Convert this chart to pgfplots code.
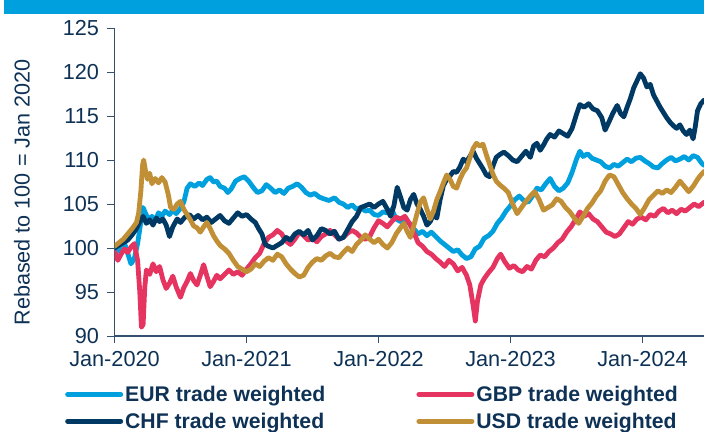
\documentclass[border=0pt]{standalone}
\usepackage{pgfplots}
\pgfplotsset{compat=1.18}
\usepackage{fontspec}
\setmainfont{Liberation Sans}
\definecolor{eurcol}{RGB}{0,160,223}
\definecolor{gbpcol}{RGB}{230,52,96}
\definecolor{chfcol}{RGB}{0,58,100}
\definecolor{usdcol}{RGB}{193,143,54}
\definecolor{barcol}{RGB}{0,160,223}
\definecolor{textcol}{RGB}{14,50,86}
\definecolor{axiscol}{RGB}{52,82,112}
\begin{document}
\begin{tikzpicture}
\path[use as bounding box] (0,0) rectangle (704bp,432bp);
\fill[barcol] (3.6bp,418bp) rectangle (704bp,432bp);
\begin{axis}[
  at={(114.5bp,96bp)}, anchor=south west,
  scale only axis, width=589.5bp, height=308bp,
  xmin=0, xmax=53.59, ymin=90, ymax=125,
  axis x line*=bottom, axis y line*=left,
  axis line style={-, axiscol, line width=1.1bp},
  tick align=outside, major tick length=7bp,
  tick style={axiscol, line width=1bp},
  xtick={0,12,24,36,48},
  xticklabels={Jan-2020,Jan-2021,Jan-2022,Jan-2023,Jan-2024},
  ytick={90,95,100,105,110,115,120,125},
  /pgf/number format/assume math mode=true,
  ticklabel style={font=\fontsize{21.7bp}{25bp}\selectfont, text=textcol},
  xticklabel style={yshift=-5bp},
  yticklabel style={xshift=-5bp},
  ylabel={Rebased to 100 = Jan 2020},
  ylabel style={font=\fontsize{21.6bp}{25bp}\selectfont, text=textcol, at={(axis description cs:-0.157,0.466)}, anchor=center},
  legend columns=2,
  legend cell align=left,
  legend style={at={(axis description cs:-0.084,-0.155)}, anchor=north west, draw=none, fill=none, inner sep=0pt,
    font=\bfseries\fontsize{21.2bp}{25bp}\selectfont, text=textcol,
    nodes={inner xsep=2bp, inner ysep=2bp},
    /tikz/every even column/.append style={column sep=89bp}, row sep=6bp},
  legend image code/.code={\draw[line width=5bp, line cap=round] (1bp,0bp) -- (54bp,0bp);},
  every axis plot/.append style={line width=4.8bp, line join=round, line cap=round},
]
\addplot[eurcol] table {
0.0 100.0
0.3 99.6
0.6 100.3
0.9 100.6
1.2 99.4
1.5 98.2
1.8 98.8
2.1 100.5
2.4 103.0
2.6 104.6
2.8 104.0
3.1 103.2
3.4 103.6
3.7 103.1
4.0 104.0
4.3 103.6
4.6 104.2
5.0 103.8
5.3 104.3
5.6 103.9
6.0 104.5
6.3 105.2
6.6 106.8
6.9 107.3
7.3 107.0
7.7 107.4
8.0 107.1
8.4 107.8
8.7 108.0
9.0 107.5
9.3 107.6
9.6 107.0
10.0 106.8
10.3 106.3
10.6 106.7
11.0 107.6
11.4 107.9
11.8 108.1
12.2 107.6
12.6 106.9
13.0 106.3
13.4 106.5
13.8 107.2
14.2 106.8
14.6 106.3
15.0 106.6
15.4 106.2
15.8 106.8
16.2 107.0
16.6 107.3
17.0 106.9
17.4 106.3
17.8 106.0
18.2 106.2
18.6 105.8
19.0 105.6
19.5 105.4
20.0 105.7
20.4 105.2
20.8 105.0
21.2 104.6
21.6 104.9
22.0 104.4
22.4 104.6
22.8 104.2
23.2 104.3
23.6 103.8
24.0 103.7
24.4 104.1
24.8 104.0
25.2 104.4
25.6 103.3
26.0 103.0
26.4 103.2
26.8 102.8
27.2 102.2
27.6 101.6
28.0 101.9
28.4 101.4
28.8 101.8
29.2 101.3
29.6 100.8
30.0 100.4
30.4 100.0
30.8 99.6
31.2 99.8
31.6 99.2
32.0 98.8
32.4 99.0
32.8 99.9
33.2 100.2
33.6 101.1
34.0 101.4
34.4 101.9
34.8 102.8
35.2 103.4
35.6 104.2
36.0 104.8
36.4 105.5
36.8 105.9
37.2 105.4
37.6 105.2
38.0 105.9
38.4 106.8
38.8 106.6
39.2 107.3
39.6 107.9
40.0 107.0
40.4 106.5
40.8 106.8
41.2 107.4
41.6 108.6
42.0 110.1
42.3 111.0
42.6 110.4
43.0 110.7
43.4 110.2
43.8 110.0
44.2 109.8
44.6 109.3
45.0 109.1
45.4 109.5
45.8 109.3
46.2 109.7
46.6 110.1
47.0 109.8
47.4 110.2
47.8 110.3
48.2 109.9
48.6 109.6
49.0 109.2
49.4 109.1
49.8 109.6
50.2 110.0
50.6 110.3
51.0 109.9
51.4 110.1
51.8 110.4
52.2 110.0
52.6 110.5
53.0 110.3
53.4 109.6
53.6 109.4
};
\addlegendentry{EUR trade weighted}
\addplot[gbpcol] table {
0.0 99.6
0.3 98.6
0.6 99.3
0.9 99.9
1.2 99.5
1.5 100.1
1.8 100.5
2.1 98.6
2.3 95.0
2.45 91.0
2.6 91.3
2.75 95.5
2.9 97.5
3.2 97.0
3.5 98.2
3.8 97.3
4.1 97.9
4.4 96.4
4.7 95.4
5.0 96.0
5.3 96.8
5.6 95.6
6.0 94.4
6.3 95.5
6.6 96.2
6.9 97.1
7.2 96.3
7.5 95.8
7.8 96.9
8.1 98.1
8.4 96.8
8.7 95.6
9.0 96.2
9.3 96.9
9.6 96.5
10.0 97.0
10.4 97.5
10.8 97.0
11.2 97.3
11.6 96.9
12.0 97.6
12.4 98.2
12.8 98.9
13.2 99.4
13.6 100.5
14.0 101.2
14.4 101.5
14.8 102.0
15.2 101.6
15.6 100.8
16.0 100.4
16.4 101.0
16.8 101.8
17.2 101.4
17.6 100.9
18.0 101.1
18.4 100.7
18.8 101.3
19.2 101.6
19.6 102.0
20.0 101.5
20.4 101.0
20.8 101.2
21.2 101.7
21.6 102.0
22.0 101.7
22.4 101.2
22.8 101.0
23.2 101.3
23.6 102.3
24.0 103.1
24.4 102.8
24.8 102.4
25.2 103.0
25.6 103.5
26.0 103.3
26.4 103.6
26.8 102.8
27.2 101.8
27.6 100.6
28.0 100.2
28.4 99.6
28.8 99.3
29.2 98.8
29.6 98.4
30.0 97.9
30.4 98.6
30.8 98.2
31.2 97.4
31.6 97.8
32.0 96.9
32.3 95.8
32.6 93.5
32.8 91.7
33.0 94.0
33.3 95.8
33.6 96.5
34.0 97.2
34.4 97.8
34.8 98.8
35.1 99.3
35.5 98.4
35.9 97.7
36.3 98.0
36.7 97.5
37.1 97.3
37.5 97.9
37.9 97.6
38.3 98.6
38.7 99.2
39.1 99.0
39.5 99.6
39.9 100.0
40.3 100.6
40.7 101.0
41.1 101.8
41.5 102.4
41.9 103.2
42.3 104.1
42.7 103.6
43.1 103.9
43.5 103.3
43.9 103.0
44.3 102.4
44.7 101.8
45.1 101.6
45.5 101.3
45.9 101.6
46.3 102.3
46.7 103.0
47.1 102.7
47.5 103.3
47.9 103.5
48.3 103.2
48.7 103.8
49.1 103.6
49.5 104.2
49.9 104.5
50.3 104.0
50.7 104.3
51.1 103.9
51.5 104.4
51.9 104.2
52.3 104.6
52.7 105.0
53.1 104.7
53.6 105.2
};
\addlegendentry{GBP trade weighted}
\addplot[chfcol] table {
0.0 100.0
0.4 100.3
0.8 100.6
1.2 100.9
1.6 101.5
2.0 102.2
2.3 103.0
2.6 103.6
2.9 102.8
3.2 103.2
3.5 102.6
3.8 103.4
4.1 103.0
4.4 103.3
4.7 102.6
5.0 101.3
5.3 102.4
5.7 103.3
6.0 102.9
6.4 103.5
6.8 103.8
7.2 103.3
7.6 103.7
8.0 103.2
8.4 103.5
8.8 102.9
9.2 103.3
9.6 103.7
10.0 103.1
10.4 102.8
10.8 103.4
11.2 104.0
11.6 103.6
12.0 103.8
12.4 103.3
12.8 102.9
13.1 102.2
13.4 101.6
13.7 100.4
14.0 100.2
14.4 100.0
14.8 100.3
15.2 100.6
15.6 101.2
16.0 100.9
16.4 101.6
16.8 101.9
17.2 101.5
17.6 102.0
18.0 100.9
18.4 101.4
18.8 102.2
19.2 102.0
19.6 101.6
20.0 101.9
20.4 101.0
20.8 101.2
21.2 102.1
21.6 103.0
22.0 103.6
22.4 104.6
22.8 104.8
23.2 105.0
23.6 104.6
24.0 105.0
24.4 105.3
24.8 104.4
25.1 103.6
25.4 104.8
25.7 106.9
26.0 105.8
26.3 104.6
26.6 104.3
26.9 105.5
27.2 106.1
27.5 105.0
27.8 104.4
28.1 103.6
28.4 102.6
28.7 103.0
29.0 103.8
29.3 103.4
29.6 105.5
29.9 107.1
30.2 107.8
30.5 108.2
30.8 108.7
31.1 108.6
31.4 109.2
31.7 110.1
32.0 109.8
32.3 110.4
32.6 111.0
32.9 110.2
33.2 109.6
33.5 109.0
33.8 108.3
34.1 108.1
34.4 109.3
34.7 110.3
35.0 110.6
35.4 110.9
35.8 110.5
36.2 110.0
36.6 109.8
37.0 110.4
37.4 111.0
37.8 110.3
38.1 111.6
38.4 111.9
38.7 111.1
39.0 111.7
39.3 112.4
39.6 112.9
40.0 112.6
40.4 113.3
40.8 113.0
41.2 112.7
41.6 113.6
42.0 115.2
42.3 116.3
42.7 116.0
43.1 116.4
43.5 115.8
43.9 115.6
44.3 114.8
44.6 113.4
44.9 114.2
45.3 115.3
45.7 116.2
46.0 115.3
46.3 114.9
46.6 116.0
46.9 117.0
47.2 118.2
47.5 119.0
47.8 119.8
48.1 119.3
48.4 118.3
48.7 118.6
49.0 117.4
49.3 116.7
49.6 116.0
49.9 115.4
50.2 114.8
50.5 114.3
50.8 113.9
51.1 113.6
51.4 114.0
51.7 113.3
52.0 112.9
52.3 113.4
52.6 112.4
52.8 113.8
53.0 115.6
53.3 116.4
53.6 116.8
};
\addlegendentry{CHF trade weighted}
\addplot[usdcol] table {
0.0 100.2
0.4 100.6
0.8 101.0
1.2 101.6
1.6 102.2
2.0 102.9
2.2 104.0
2.4 106.5
2.55 109.4
2.65 110.0
2.8 108.9
3.0 107.8
3.2 108.5
3.4 107.3
3.7 107.9
4.0 107.4
4.3 108.0
4.6 107.5
4.9 106.0
5.1 104.6
5.4 104.4
5.7 105.0
6.0 105.3
6.3 104.4
6.6 103.8
6.9 103.2
7.2 102.5
7.5 102.3
7.8 101.8
8.1 102.4
8.4 102.9
8.7 102.2
9.0 101.4
9.3 100.8
9.6 100.3
10.0 99.9
10.4 99.4
10.8 98.6
11.2 97.9
11.6 97.6
12.0 97.3
12.4 97.6
12.8 98.2
13.2 97.9
13.6 98.5
14.0 98.9
14.4 98.6
14.8 99.3
15.2 99.0
15.6 98.2
16.0 97.6
16.4 97.1
16.8 96.7
17.2 96.9
17.6 97.8
18.0 98.4
18.4 98.8
18.8 98.6
19.2 99.1
19.6 99.4
20.0 99.0
20.4 98.9
20.8 99.5
21.2 100.0
21.6 99.6
22.0 100.4
22.4 100.9
22.8 101.5
23.2 101.0
23.6 100.6
24.0 101.0
24.4 100.4
24.8 100.0
25.2 100.6
25.6 101.6
26.0 102.3
26.3 102.8
26.6 101.9
26.9 101.2
27.2 102.5
27.5 103.9
27.8 105.2
28.1 105.7
28.4 104.4
28.7 103.3
29.0 104.2
29.3 105.5
29.6 106.4
29.9 107.4
30.2 108.3
30.5 107.8
30.8 107.0
31.1 106.8
31.4 107.8
31.7 108.6
32.0 109.1
32.3 110.2
32.6 111.3
32.9 111.9
33.2 111.6
33.5 111.8
33.8 110.6
34.1 109.5
34.4 108.4
34.7 107.6
35.0 107.2
35.4 106.8
35.8 106.3
36.2 105.0
36.6 103.9
37.0 104.6
37.4 105.3
37.8 105.9
38.2 106.4
38.6 105.5
39.0 104.3
39.4 104.6
39.8 104.9
40.2 105.6
40.6 105.3
41.0 104.6
41.4 104.1
41.8 103.4
42.2 102.8
42.6 103.6
43.0 104.5
43.4 105.1
43.8 105.9
44.2 106.5
44.6 107.6
45.0 108.3
45.4 108.1
45.8 107.2
46.2 106.3
46.6 105.6
47.0 105.0
47.4 104.5
47.8 103.8
48.2 104.6
48.6 105.5
49.0 106.0
49.4 106.5
49.8 106.2
50.2 106.6
50.6 106.3
51.0 106.9
51.4 107.6
51.8 107.0
52.2 106.4
52.6 107.0
53.0 107.8
53.3 108.3
53.6 108.7
};
\addlegendentry{USD trade weighted}
\end{axis}
\end{tikzpicture}
\end{document}
